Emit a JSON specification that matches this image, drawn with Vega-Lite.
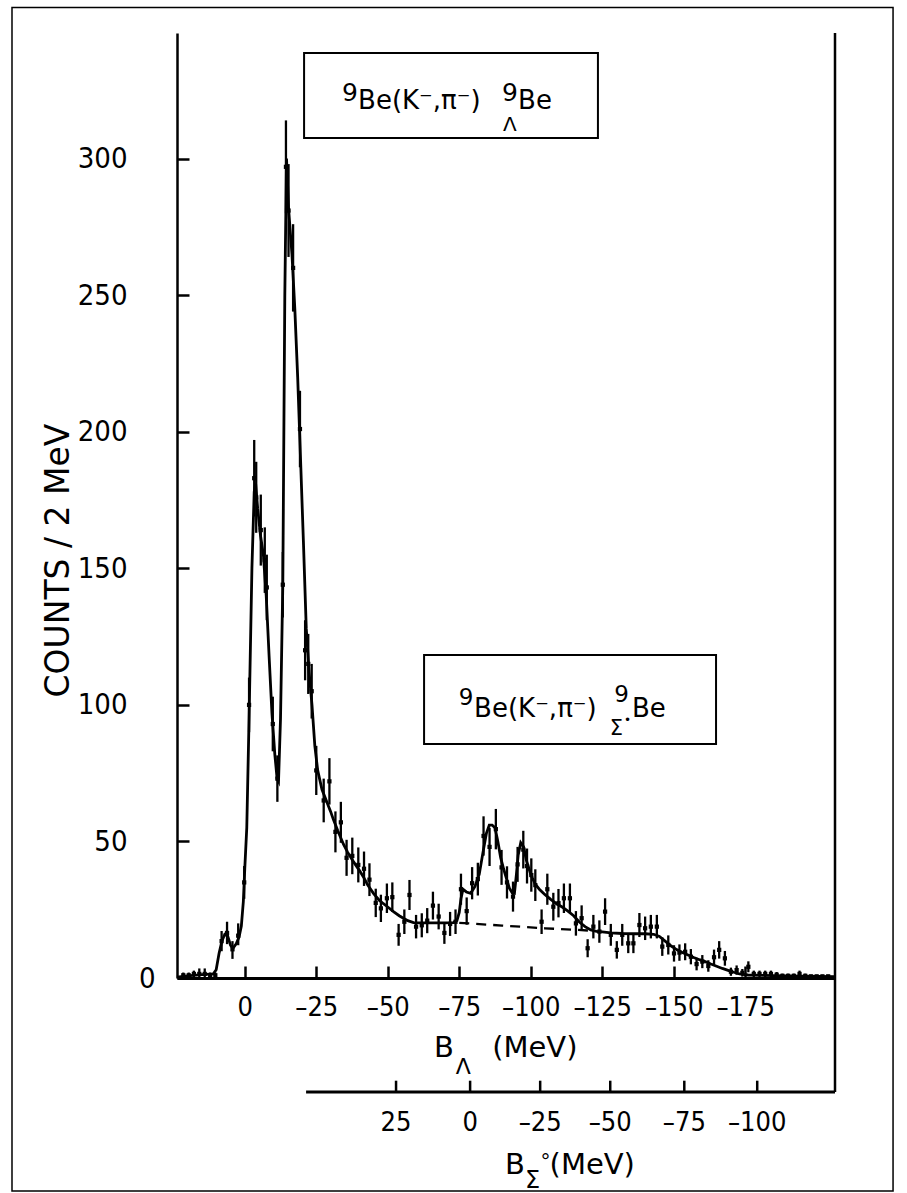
{
"$schema": "https://vega.github.io/schema/vega-lite/v6.json",
"width": 658, "height": 945,
"autosize": {"type": "none"},
"padding": {"left": 177, "top": 33, "right": 72, "bottom": 215},
"background": "white",
"config": {"view": {"stroke": null}, "font": "DejaVu Sans",
 "axis": {"grid": false, "domainColor": "black", "tickColor": "black", "labelColor": "black", "titleColor": "black", "labelFont": "DejaVu Sans Condensed, Liberation Sans Narrow, Liberation Sans", "titleFont": "DejaVu Sans", "labelFontSize": 27}},
"datasets": {
 "pts": [
{"b":21.5,"c":1,"lo":0,"hi":2},{"b":19.6,"c":1,"lo":0,"hi":2},{"b":17.8,"c":1.5,"lo":0.3,"hi":2.7},{"b":15.9,"c":1.5,"lo":0.2,"hi":3.5},{"b":14.0,"c":1.5,"lo":0.2,"hi":3.5},{"b":12.1,"c":1,"lo":0,"hi":2},{"b":10.3,"c":1,"lo":0,"hi":2},
{"b":8.1,"c":13.5,"lo":9.8,"hi":17.2},{"b":6.2,"c":16.5,"lo":12.4,"hi":20.6},{"b":4.3,"c":10.5,"lo":7,"hi":13.5},{"b":2.3,"c":15.5,"lo":12,"hi":20},{"b":0.2,"c":35,"lo":29,"hi":41},
{"b":-1.5,"c":100,"lo":90,"hi":110},{"b":-3.3,"c":183,"lo":169,"hi":197},{"b":-4.0,"c":176,"lo":163,"hi":189},{"b":-5.6,"c":164,"lo":151,"hi":177},{"b":-7.0,"c":153,"lo":141,"hi":165},{"b":-7.7,"c":143,"lo":131,"hi":155},{"b":-9.8,"c":93,"lo":83,"hi":103},{"b":-11.4,"c":73,"lo":64.5,"hi":81.5},{"b":-13.3,"c":144,"lo":132,"hi":156},{"b":-14.4,"c":297,"lo":280,"hi":314},{"b":-15.3,"c":281,"lo":264,"hi":298},{"b":-16.9,"c":260,"lo":244,"hi":276},{"b":-19.3,"c":201,"lo":187,"hi":215},{"b":-21.1,"c":120,"lo":109,"hi":131},{"b":-22.2,"c":115,"lo":104,"hi":126},{"b":-23.4,"c":105,"lo":95,"hi":115},{"b":-25.0,"c":76,"lo":67,"hi":85},{"b":-27.6,"c":65,"lo":57,"hi":73},{"b":-29.6,"c":72,"lo":63.5,"hi":80.5},{"b":-31.7,"c":53.5,"lo":46,"hi":61},{"b":-33.6,"c":57,"lo":49.5,"hi":64.5},{"b":-35.6,"c":44,"lo":37.4,"hi":50.6},{"b":-37.6,"c":44.7,"lo":38,"hi":51.4},{"b":-39.7,"c":41.4,"lo":35,"hi":47.8},{"b":-41.7,"c":40,"lo":33.7,"hi":46.3},{"b":-43.6,"c":36,"lo":30,"hi":42},{"b":-45.8,"c":27.5,"lo":22.3,"hi":32.7},{"b":-47.6,"c":25.5,"lo":20.5,"hi":30.5},{"b":-49.7,"c":29.2,"lo":23.8,"hi":34.6},{"b":-51.6,"c":29.6,"lo":24.2,"hi":35},{"b":-53.8,"c":15.8,"lo":11.8,"hi":19.8},{"b":-55.8,"c":20.6,"lo":16.1,"hi":25.1},{"b":-57.6,"c":30.4,"lo":24.9,"hi":35.9},{"b":-59.9,"c":18.8,"lo":14.5,"hi":23.1},{"b":-61.9,"c":19.3,"lo":14.9,"hi":23.7},{"b":-63.8,"c":21,"lo":16.4,"hi":25.6},{"b":-65.8,"c":26.5,"lo":21.4,"hi":31.6},{"b":-67.8,"c":22.5,"lo":17.8,"hi":27.2},{"b":-69.8,"c":16.5,"lo":12.5,"hi":20.5},{"b":-71.8,"c":19.8,"lo":15.4,"hi":24.2},{"b":-73.7,"c":20.6,"lo":16.1,"hi":25.1},{"b":-75.6,"c":32.5,"lo":26.8,"hi":38.2},{"b":-77.6,"c":24.5,"lo":19.5,"hi":29.5},{"b":-79.5,"c":34.7,"lo":28.8,"hi":40.6},{"b":-81.5,"c":36.2,"lo":30.2,"hi":42.2},{"b":-83.5,"c":52,"lo":44.8,"hi":59.2},{"b":-85.6,"c":48,"lo":41,"hi":55},{"b":-87.8,"c":54.5,"lo":47.1,"hi":61.9},{"b":-89.8,"c":40.5,"lo":34.1,"hi":46.9},{"b":-91.7,"c":35,"lo":29.1,"hi":40.9},{"b":-93.8,"c":29.8,"lo":24.3,"hi":35.3},{"b":-95.4,"c":41.6,"lo":35.2,"hi":48},{"b":-97.4,"c":47,"lo":40.1,"hi":53.9},{"b":-98.7,"c":41,"lo":34.6,"hi":47.4},{"b":-100.2,"c":37.7,"lo":31.6,"hi":43.8},{"b":-101.6,"c":34,"lo":28.2,"hi":39.8},{"b":-103.8,"c":20.6,"lo":16.1,"hi":25.1},{"b":-105.8,"c":32.5,"lo":26.8,"hi":38.2},{"b":-107.9,"c":26.1,"lo":21,"hi":31.2},{"b":-109.7,"c":27.4,"lo":22.2,"hi":32.6},{"b":-111.6,"c":29.2,"lo":23.8,"hi":34.6},{"b":-113.7,"c":29.2,"lo":23.8,"hi":34.6},{"b":-115.8,"c":20,"lo":15.5,"hi":24.5},{"b":-117.8,"c":21.9,"lo":17.2,"hi":26.6},{"b":-119.9,"c":10.9,"lo":7.6,"hi":14.2},{"b":-121.9,"c":18.8,"lo":14.5,"hi":23.1},{"b":-124.0,"c":17,"lo":12.9,"hi":21.1},{"b":-126.0,"c":24.3,"lo":19.4,"hi":29.2},{"b":-128.0,"c":15.8,"lo":11.8,"hi":19.8},{"b":-130.1,"c":10.3,"lo":7.1,"hi":13.5},{"b":-132.0,"c":15.8,"lo":11.8,"hi":19.8},{"b":-134.1,"c":12.7,"lo":9.1,"hi":16.3},{"b":-135.9,"c":12.7,"lo":9.1,"hi":16.3},{"b":-138.0,"c":19.4,"lo":15,"hi":23.8},{"b":-140.0,"c":18.2,"lo":13.9,"hi":22.5},{"b":-142.0,"c":18.8,"lo":14.5,"hi":23.1},{"b":-144.1,"c":18.8,"lo":14.5,"hi":23.1},{"b":-146.0,"c":11.5,"lo":8.1,"hi":14.9},{"b":-148.1,"c":12.1,"lo":8.6,"hi":15.6},{"b":-150.1,"c":9,"lo":6,"hi":12},{"b":-152.0,"c":9.3,"lo":6.3,"hi":12.3},{"b":-154.0,"c":9.6,"lo":6.5,"hi":12.7},{"b":-156.0,"c":7.8,"lo":5,"hi":10.6},{"b":-158.0,"c":5.1,"lo":2.8,"hi":7.4},{"b":-160.0,"c":6,"lo":3.6,"hi":8.4},{"b":-162.1,"c":4.4,"lo":2.3,"hi":6.5},{"b":-164.1,"c":7.6,"lo":4.8,"hi":10.4},{"b":-165.9,"c":10.3,"lo":7.1,"hi":13.5},{"b":-167.9,"c":7.2,"lo":4.5,"hi":9.9},{"b":-170.0,"c":2.3,"lo":0.8,"hi":3.8},{"b":-172.0,"c":2.9,"lo":1.2,"hi":4.6},{"b":-174.0,"c":1.9,"lo":0.5,"hi":3.3},{"b":-176.1,"c":4.1,"lo":2.1,"hi":6.1},{"b":-178,"c":1.5,"lo":0.3,"hi":2.7},{"b":-180,"c":1.5,"lo":0.3,"hi":2.7},{"b":-182,"c":1.5,"lo":0.3,"hi":2.7},{"b":-184,"c":1.5,"lo":0.3,"hi":2.7},{"b":-186,"c":1.2,"lo":0.2,"hi":2.2},{"b":-188,"c":0.8,"lo":0,"hi":1.6},{"b":-190,"c":0.8,"lo":0,"hi":1.6},{"b":-192,"c":0.8,"lo":0,"hi":1.6},{"b":-194,"c":1.5,"lo":0.3,"hi":2.7},{"b":-196,"c":0.8,"lo":0,"hi":1.6},{"b":-198,"c":0.6,"lo":0,"hi":1.2},{"b":-200,"c":0.6,"lo":0,"hi":1.2},{"b":-202,"c":0.6,"lo":0,"hi":1.2},{"b":-204,"c":0.6,"lo":0,"hi":1.2}
 ],
 "fit": [
{"b":23.7,"c":0.3},{"b":20,"c":0.8},{"b":15,"c":1.2},{"b":11,"c":1.5},{"b":10,"c":3},{"b":9,"c":9},{"b":8,"c":13.5},{"b":7,"c":16},{"b":6,"c":15.5},{"b":5,"c":12},{"b":4.2,"c":10.8},{"b":3,"c":12.5},{"b":2,"c":15},{"b":1.2,"c":19},{"b":0.5,"c":28},{"b":0,"c":40},{"b":-0.7,"c":55},{"b":-1.5,"c":95},{"b":-2.5,"c":150},{"b":-3.3,"c":178},{"b":-3.8,"c":181},{"b":-4.5,"c":172},{"b":-5.5,"c":162},{"b":-6.5,"c":155},{"b":-7.5,"c":140},{"b":-8.5,"c":118},{"b":-9.5,"c":97},{"b":-10.5,"c":82},{"b":-11.3,"c":73},{"b":-11.8,"c":72},{"b":-12.5,"c":95},{"b":-13.3,"c":144},{"b":-14,"c":250},{"b":-14.6,"c":300},{"b":-15.3,"c":282},{"b":-16.5,"c":265},{"b":-17.5,"c":245},{"b":-18.5,"c":220},{"b":-19.5,"c":190},{"b":-20.5,"c":160},{"b":-21.5,"c":128},{"b":-22.5,"c":112},{"b":-23.5,"c":100},{"b":-24.5,"c":85},{"b":-25.5,"c":76},{"b":-27,"c":69},{"b":-28.5,"c":65},{"b":-30,"c":61},{"b":-31,"c":58},{"b":-32.5,"c":54},{"b":-34.5,"c":49},{"b":-36,"c":46},{"b":-38,"c":42.6},{"b":-40,"c":39.5},{"b":-41.5,"c":37},{"b":-43,"c":34},{"b":-45,"c":31},{"b":-47,"c":28.5},{"b":-48.5,"c":27.2},{"b":-50,"c":26},{"b":-52,"c":24.3},{"b":-54,"c":22.8},{"b":-55.5,"c":21.9},{"b":-57,"c":21},{"b":-59,"c":20.3},{"b":-62,"c":20.2},{"b":-66,"c":20.2},{"b":-70,"c":20.2},{"b":-73,"c":20.3},{"b":-74.2,"c":21},{"b":-75,"c":24},{"b":-75.6,"c":29},{"b":-76.3,"c":32.5},{"b":-77.5,"c":31.5},{"b":-79,"c":31},{"b":-80.5,"c":33.5},{"b":-82,"c":38},{"b":-83.3,"c":46},{"b":-84.5,"c":53},{"b":-85.5,"c":56},{"b":-86.5,"c":56},{"b":-87.5,"c":55},{"b":-88.5,"c":50},{"b":-89.5,"c":44},{"b":-90.5,"c":40},{"b":-91.5,"c":36.5},{"b":-92.5,"c":33},{"b":-93.5,"c":31.2},{"b":-94.3,"c":31},{"b":-95,"c":38},{"b":-95.6,"c":45},{"b":-96.5,"c":49.5},{"b":-97.5,"c":48},{"b":-98.5,"c":43},{"b":-100,"c":38},{"b":-101.5,"c":34.5},{"b":-103,"c":32.5},{"b":-105,"c":30.5},{"b":-107,"c":28.8},{"b":-109,"c":27.2},{"b":-111,"c":26},{"b":-113,"c":24.5},{"b":-115,"c":22.8},{"b":-117,"c":20.5},{"b":-119,"c":18.8},{"b":-121,"c":17.6},{"b":-123,"c":17.1},{"b":-125,"c":16.9},{"b":-128,"c":16.5},{"b":-132,"c":16.3},{"b":-136,"c":16.2},{"b":-140,"c":16.2},{"b":-143,"c":16},{"b":-145,"c":15.2},{"b":-147,"c":13.5},{"b":-149,"c":11.8},{"b":-151,"c":10.4},{"b":-153,"c":9.3},{"b":-155,"c":8.4},{"b":-157,"c":7.5},{"b":-159,"c":6.7},{"b":-161,"c":6},{"b":-163,"c":5.1},{"b":-165,"c":4.3},{"b":-167,"c":3.5},{"b":-169,"c":2.8},{"b":-171,"c":2.1},{"b":-173,"c":1.5},{"b":-176,"c":1.1},{"b":-185,"c":0.9},{"b":-195,"c":0.7},{"b":-206.4,"c":0.5}
 ],
 "bg": [{"b":-75,"c":20.2},{"b":-90,"c":19.2},{"b":-105,"c":18.2},{"b":-120,"c":17.4}],
 "sig": [{"s":"25","b":-52.9},{"s":"0","b":-78.8},{"s":"–25","b":-103.3},{"s":"–50","b":-127.8},{"s":"–75","b":-153.7},{"s":"–100","b":-179.2}]
},
"layer": [
  {"data": {"name": "pts"}, "mark": {"type": "rule", "color": "black", "strokeWidth": 2.3},
   "encoding": {
    "x": {"field": "b", "type": "quantitative", "scale": {"domain": [-206.4, 23.7], "reverse": true, "nice": false, "zero": false},
      "axis": {"values": [0,-25,-50,-75,-100,-125,-150,-175], "title": null, "tickSize": -12, "tickWidth": 2.5, "domainWidth": 3, "labelPadding": 28, "labelFlush": false, "labelOverlap": false, "labelExpr": "replace(datum.label, '−', '–')"}},
    "y": {"field": "lo", "type": "quantitative", "scale": {"domain": [0, 346], "nice": false, "zero": false},
      "axis": {"values": [0,50,100,150,200,250,300], "title": "COUNTS / 2 MeV", "tickSize": -12, "tickWidth": 2.5, "domainWidth": 2.5, "labelFontSize": 29,
        "labelPadding": {"condition": {"test": "datum.value === 0", "value": 34}, "value": 62},
        "titleFontSize": 33, "titleFontWeight": "normal", "titleX": -119, "titleY": 527, "titleAngle": -90, "titleAlign": "center", "titleBaseline": "middle", "labelOverlap": false}},
    "y2": {"field": "hi"}}},
  {"data": {"name": "pts"}, "mark": {"type": "point", "shape": "square", "filled": true, "size": 18, "color": "black", "opacity": 1},
   "encoding": {"x": {"field": "b", "type": "quantitative"}, "y": {"field": "c", "type": "quantitative"}}},
  {"data": {"name": "fit"}, "mark": {"type": "line", "color": "black", "strokeWidth": 2.8},
   "encoding": {"x": {"field": "b", "type": "quantitative"}, "y": {"field": "c", "type": "quantitative"}}},
  {"data": {"name": "bg"}, "mark": {"type": "line", "color": "black", "strokeWidth": 2.3, "strokeDash": [10, 7]},
   "encoding": {"x": {"field": "b", "type": "quantitative"}, "y": {"field": "c", "type": "quantitative"}}},
  {"data": {"values": [{}]}, "mark": {"type": "rule", "color": "black", "strokeWidth": 2.5},
   "encoding": {"x": {"datum": -206.4, "type": "quantitative"}, "y": {"datum": 346, "type": "quantitative"}, "y2": {"datum": -41.7}}},
  {"data": {"values": [{}]}, "mark": {"type": "rule", "color": "black", "strokeWidth": 3},
   "encoding": {"x": {"datum": -21.44, "type": "quantitative"}, "x2": {"datum": -206.4}, "y": {"datum": -41.7, "type": "quantitative"}}},
  {"data": {"name": "sig"}, "mark": {"type": "rule", "color": "black", "strokeWidth": 2.5},
   "encoding": {"x": {"field": "b", "type": "quantitative"}, "y": {"datum": -41.7, "type": "quantitative"}, "y2": {"datum": -37.6}}},
  {"data": {"name": "sig"}, "mark": {"type": "text", "fontSize": 27, "align": "center", "baseline": "middle", "font": "DejaVu Sans Condensed, Liberation Sans Narrow, Liberation Sans"},
   "encoding": {"x": {"field": "b", "type": "quantitative"}, "y": {"datum": -53.1, "type": "quantitative"}, "text": {"field": "s"}}},
  {"data": {"values": [{}]}, "mark": {"type": "rect", "filled": false, "stroke": "black", "strokeWidth": 1.5},
   "encoding": {"x": {"datum": 81.4, "type": "quantitative"}, "x2": {"datum": -226.7}, "y": {"datum": 355.3, "type": "quantitative"}, "y2": {"datum": -78}}},
  {"data": {"values": [{}]}, "mark": {"type": "rect", "filled": false, "stroke": "black", "strokeWidth": 2},
   "encoding": {"x": {"datum": -20.74, "type": "quantitative"}, "x2": {"datum": -123.5}, "y": {"datum": 338.7, "type": "quantitative"}, "y2": {"datum": 307.6}}},
  {"data": {"values": [{}]}, "mark": {"type": "rect", "filled": false, "stroke": "black", "strokeWidth": 2},
   "encoding": {"x": {"datum": -62.7, "type": "quantitative"}, "x2": {"datum": -164.8}, "y": {"datum": 118.3, "type": "quantitative"}, "y2": {"datum": 85.7}}},
  {"data": {"values": [{}]}, "mark": {"type": "text", "text": "9", "fontSize": 25, "align": "left", "baseline": "middle", "font": "DejaVu Sans"},
   "encoding": {"x": {"datum": -34.03, "type": "quantitative"}, "y": {"datum": 324.2, "type": "quantitative"}}},
  {"data": {"values": [{}]}, "mark": {"type": "text", "text": "Be(K⁻,π⁻)", "fontSize": 26, "align": "left", "baseline": "middle", "font": "DejaVu Sans"},
   "encoding": {"x": {"datum": -39.62, "type": "quantitative"}, "y": {"datum": 321.1, "type": "quantitative"}}},
  {"data": {"values": [{}]}, "mark": {"type": "text", "text": "9", "fontSize": 25, "align": "left", "baseline": "middle", "font": "DejaVu Sans"},
   "encoding": {"x": {"datum": -89.98, "type": "quantitative"}, "y": {"datum": 324.2, "type": "quantitative"}}},
  {"data": {"values": [{}]}, "mark": {"type": "text", "text": "Λ", "fontSize": 20, "align": "left", "baseline": "middle", "font": "DejaVu Sans"},
   "encoding": {"x": {"datum": -90.33, "type": "quantitative"}, "y": {"datum": 312.3, "type": "quantitative"}}},
  {"data": {"values": [{}]}, "mark": {"type": "text", "text": "Be", "fontSize": 26, "align": "left", "baseline": "middle", "font": "DejaVu Sans"},
   "encoding": {"x": {"datum": -95.57, "type": "quantitative"}, "y": {"datum": 321.1, "type": "quantitative"}}},
  {"data": {"values": [{}]}, "mark": {"type": "text", "text": "9", "fontSize": 23, "align": "left", "baseline": "middle", "font": "DejaVu Sans"},
   "encoding": {"x": {"datum": -74.8, "type": "quantitative"}, "y": {"datum": 102.5, "type": "quantitative"}}},
  {"data": {"values": [{}]}, "mark": {"type": "text", "text": "Be(K⁻,π⁻)", "fontSize": 26, "align": "left", "baseline": "middle", "font": "DejaVu Sans"},
   "encoding": {"x": {"datum": -80.2, "type": "quantitative"}, "y": {"datum": 98.5, "type": "quantitative"}}},
  {"data": {"values": [{}]}, "mark": {"type": "text", "text": "9", "fontSize": 23, "align": "left", "baseline": "middle", "font": "DejaVu Sans"},
   "encoding": {"x": {"datum": -129.2, "type": "quantitative"}, "y": {"datum": 103.5, "type": "quantitative"}}},
  {"data": {"values": [{}]}, "mark": {"type": "text", "text": "Σ", "fontSize": 21, "align": "left", "baseline": "middle", "font": "DejaVu Sans"},
   "encoding": {"x": {"datum": -127.6, "type": "quantitative"}, "y": {"datum": 91.0, "type": "quantitative"}}},
  {"data": {"values": [{}]}, "mark": {"type": "text", "text": "•", "fontSize": 12, "align": "left", "baseline": "middle", "font": "DejaVu Sans"},
   "encoding": {"x": {"datum": -132.6, "type": "quantitative"}, "y": {"datum": 94.5, "type": "quantitative"}}},
  {"data": {"values": [{}]}, "mark": {"type": "text", "text": "Be", "fontSize": 26, "align": "left", "baseline": "middle", "font": "DejaVu Sans"},
   "encoding": {"x": {"datum": -135.4, "type": "quantitative"}, "y": {"datum": 98.5, "type": "quantitative"}}},
  {"data": {"values": [{}]}, "mark": {"type": "text", "text": "B", "fontSize": 29, "align": "left", "baseline": "middle", "font": "DejaVu Sans"},
   "encoding": {"x": {"datum": -66.2, "type": "quantitative"}, "y": {"datum": -25.6, "type": "quantitative"}}},
  {"data": {"values": [{}]}, "mark": {"type": "text", "text": "Λ", "fontSize": 22, "align": "left", "baseline": "middle", "font": "DejaVu Sans"},
   "encoding": {"x": {"datum": -73.8, "type": "quantitative"}, "y": {"datum": -32.6, "type": "quantitative"}}},
  {"data": {"values": [{}]}, "mark": {"type": "text", "text": "(MeV)", "fontSize": 29, "align": "left", "baseline": "middle", "font": "DejaVu Sans"},
   "encoding": {"x": {"datum": -86.5, "type": "quantitative"}, "y": {"datum": -25.6, "type": "quantitative"}}},
  {"data": {"values": [{}]}, "mark": {"type": "text", "text": "B", "fontSize": 29, "align": "left", "baseline": "middle", "font": "DejaVu Sans"},
   "encoding": {"x": {"datum": -91.0, "type": "quantitative"}, "y": {"datum": -68.5, "type": "quantitative"}}},
  {"data": {"values": [{}]}, "mark": {"type": "text", "text": "Σ", "fontSize": 24, "align": "left", "baseline": "middle", "font": "DejaVu Sans"},
   "encoding": {"x": {"datum": -98.0, "type": "quantitative"}, "y": {"datum": -74.3, "type": "quantitative"}}},
  {"data": {"values": [{}]}, "mark": {"type": "text", "text": "°", "fontSize": 20, "align": "left", "baseline": "middle", "font": "DejaVu Sans"},
   "encoding": {"x": {"datum": -103.4, "type": "quantitative"}, "y": {"datum": -67.5, "type": "quantitative"}}},
  {"data": {"values": [{}]}, "mark": {"type": "text", "text": "(MeV)", "fontSize": 29, "align": "left", "baseline": "middle", "font": "DejaVu Sans"},
   "encoding": {"x": {"datum": -106.6, "type": "quantitative"}, "y": {"datum": -68.5, "type": "quantitative"}}}
]
}
